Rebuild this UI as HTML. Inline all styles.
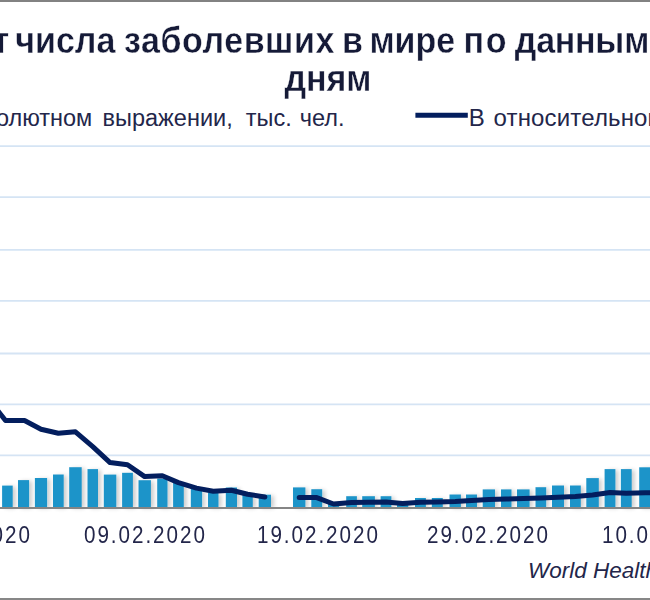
<!DOCTYPE html>
<html><head><meta charset="utf-8">
<style>
html,body{margin:0;padding:0;background:#fff;}
body{width:650px;height:600px;position:relative;overflow:hidden;font-family:"Liberation Sans",Arial,sans-serif;color:#23264a;}
.ti{color:#151a37;}
.w{position:absolute;white-space:nowrap;}
.ti{font-size:34px;font-weight:bold;-webkit-text-stroke:0.35px #fff;line-height:40px;transform:scaleY(1.08);transform-origin:0 31px;}
.lg{font-size:23.5px;line-height:28px;}
.lg2{font-size:24px;line-height:28px;}
.ax{font-size:24px;line-height:30px;transform:scaleX(0.86);transform-origin:0 0;letter-spacing:2.27px;}
.src{font-size:22.5px;font-style:italic;line-height:28px;}
#topb{position:absolute;left:0;top:0;width:650px;height:2px;background:#828282;}
#botb{position:absolute;left:0;top:598px;width:650px;height:2px;background:#878787;}
svg{position:absolute;left:0;top:0;}
</style></head><body>
<div id="topb"></div>
<svg width="650" height="600" viewBox="0 0 650 600">
<defs>
<filter id="sh" x="-20%" y="-20%" width="160%" height="140%">
<feGaussianBlur in="SourceAlpha" stdDeviation="2.2"/>
<feOffset dx="2.5" dy="1" result="b"/>
<feComponentTransfer><feFuncA type="linear" slope="0.2"/></feComponentTransfer>
<feMerge><feMergeNode/><feMergeNode in="SourceGraphic"/></feMerge>
</filter>
</defs>
<g stroke="#d5e4f4" stroke-width="1.8"><line x1="0" x2="650" y1="146.1" y2="146.1"/><line x1="0" x2="650" y1="197.1" y2="197.1"/><line x1="0" x2="650" y1="249.9" y2="249.9"/><line x1="0" x2="650" y1="300.9" y2="300.9"/><line x1="0" x2="650" y1="353.5" y2="353.5"/><line x1="0" x2="650" y1="404.4" y2="404.4"/><line x1="0" x2="650" y1="455.3" y2="455.3"/></g>
<g fill="#1e94c9" filter="url(#sh)"><rect x="2.10" y="485.60" width="10.60" height="21.60"/><rect x="18.00" y="480.10" width="11.10" height="27.10"/><rect x="34.90" y="478.00" width="12.20" height="29.20"/><rect x="53.00" y="474.50" width="10.70" height="32.70"/><rect x="69.20" y="467.20" width="12.50" height="40.00"/><rect x="87.50" y="469.10" width="10.50" height="38.10"/><rect x="103.80" y="474.60" width="12.50" height="32.60"/><rect x="122.10" y="472.80" width="10.80" height="34.40"/><rect x="138.50" y="480.20" width="12.40" height="27.00"/><rect x="157.20" y="478.60" width="10.30" height="28.60"/><rect x="173.10" y="483.00" width="10.70" height="24.20"/><rect x="190.80" y="489.00" width="11.30" height="18.20"/><rect x="208.00" y="493.00" width="10.50" height="14.20"/><rect x="225.80" y="487.50" width="11.20" height="19.70"/><rect x="242.40" y="494.00" width="10.40" height="13.20"/><rect x="258.70" y="494.70" width="12.30" height="12.50"/><rect x="293.00" y="487.40" width="12.40" height="19.80"/><rect x="311.30" y="489.20" width="10.90" height="18.00"/><rect x="328.00" y="503.00" width="11.20" height="4.20"/><rect x="346.20" y="496.20" width="10.70" height="11.00"/><rect x="362.20" y="496.20" width="12.70" height="11.00"/><rect x="380.60" y="496.20" width="10.80" height="11.00"/><rect x="397.00" y="503.00" width="11.30" height="4.20"/><rect x="415.00" y="498.00" width="10.90" height="9.20"/><rect x="431.80" y="498.00" width="11.00" height="9.20"/><rect x="449.50" y="494.50" width="11.40" height="12.70"/><rect x="466.00" y="494.50" width="11.00" height="12.70"/><rect x="482.70" y="489.40" width="12.30" height="17.80"/><rect x="501.00" y="489.40" width="10.50" height="17.80"/><rect x="517.00" y="489.40" width="12.60" height="17.80"/><rect x="535.50" y="487.20" width="10.70" height="20.00"/><rect x="552.00" y="485.50" width="12.00" height="21.70"/><rect x="570.00" y="485.50" width="10.80" height="21.70"/><rect x="586.30" y="478.10" width="12.50" height="29.10"/><rect x="604.60" y="469.10" width="10.80" height="38.10"/><rect x="620.90" y="469.10" width="10.80" height="38.10"/><rect x="639.20" y="467.30" width="12.30" height="39.90"/><rect x="656.00" y="466.00" width="12.00" height="41.20"/></g>
<line x1="0" x2="650" y1="507.9" y2="507.9" stroke="#858585" stroke-width="2"/>
<g fill="none" stroke="#031e5e" stroke-width="5" stroke-linejoin="round" stroke-linecap="round">
<polyline points="-11.70,398.70 5.50,420.50 24.50,420.50 41.00,429.30 58.35,433.20 75.45,431.80 92.75,446.70 110.05,462.60 127.50,464.80 144.70,476.60 162.35,475.80 178.45,482.60 196.45,488.10 213.25,491.20 231.40,490.30 247.60,494.20 264.85,497.00"/>
<polyline points="299.20,497.60 316.75,497.60 333.60,504.00 351.55,502.50 368.55,502.30 386.00,502.00 402.65,503.40 420.45,502.20 437.30,502.00 455.20,501.50 471.50,500.50 488.85,499.50 506.25,499.00 523.30,498.50 540.85,498.00 558.00,497.30 575.40,496.60 592.55,495.00 610.00,492.60 626.30,493.30 645.35,492.70 662.00,492.50"/>
</g>
<line x1="415.4" x2="467.8" y1="115.2" y2="115.2" stroke="#031e5e" stroke-width="5"/>
</svg>
<span class="w ti" style="left:-133.60px;top:21px">Прирост</span>
<span class="w ti" style="left:15.30px;top:21px">числа</span>
<span class="w ti" style="left:124.00px;top:21px;letter-spacing:0.55px">заболевших</span>
<span class="w ti" style="left:341.90px;top:21px">в</span>
<span class="w ti" style="left:369.40px;top:21px">мире</span>
<span class="w ti" style="left:463.60px;top:21px;letter-spacing:1.5px">по</span>
<span class="w ti" style="left:514.80px;top:21px;letter-spacing:-0.25px">данным</span>
<span class="w ti" style="left:660.00px;top:21px">ВОЗ</span>
<span class="w ti" style="left:284.40px;top:58.6px">дням</span>
<span class="w lg" style="left:-64.55px;top:104px">В абсолютном</span>
<span class="w lg" style="left:102.60px;top:104px">выражении,</span>
<span class="w lg" style="left:245.80px;top:104px">тыс.</span>
<span class="w lg" style="left:299.80px;top:104px">чел.</span>
<span class="w lg2" style="left:468.80px;top:104px">В</span>
<span class="w lg2" style="left:493.60px;top:104px;letter-spacing:0.15px">относительном</span>
<span class="w lg2" style="left:668.00px;top:104px">выражении</span>
<span class="w ax" style="left:-91.20px;top:520px">30.01.2020</span>
<span class="w ax" style="left:83.60px;top:520px">09.02.2020</span>
<span class="w ax" style="left:256.60px;top:520px">19.02.2020</span>
<span class="w ax" style="left:426.80px;top:520px">29.02.2020</span>
<span class="w ax" style="left:601.60px;top:520px">10.03.2020</span>
<span class="w src" style="left:528.00px;top:557px">World Health Organization</span>
<div id="botb"></div>
</body></html>
